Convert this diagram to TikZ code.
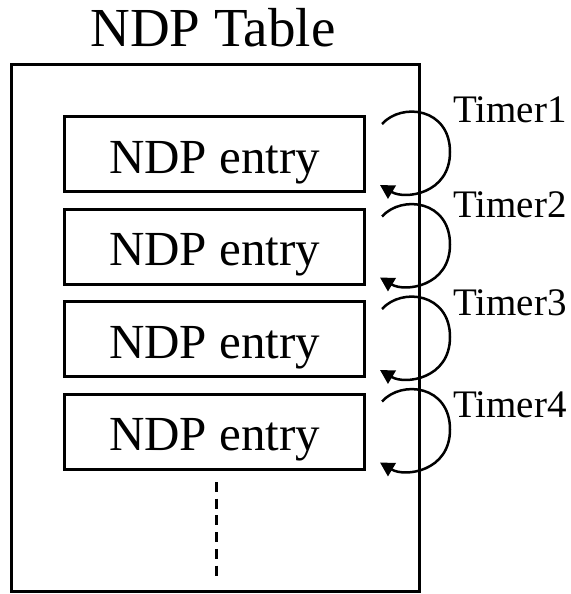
\documentclass[tikz,border=0pt]{standalone}
\usepackage{fontspec}
\setmainfont{Liberation Serif}
\usetikzlibrary{arrows.meta,calc}
\tikzset{
  entrybox/.style={draw, line width=3pt, minimum width=300pt, minimum height=75pt,
    inner sep=0pt, text height=38pt, text depth=0pt, font=\fontsize{49}{55}\selectfont},
  tablebox/.style={draw, line width=3pt, minimum width=408pt, minimum height=527pt, inner sep=0pt},
  timerlabel/.style={anchor=base west, inner sep=0pt, font=\fontsize{39}{44}\selectfont},
  titlelabel/.style={anchor=base, inner sep=0pt, font=\fontsize{55}{60}\selectfont},
  looparrow/.style={line width=2.5pt, -{Triangle[length=14pt,width=15pt]}},
  dotsline/.style={line width=3pt, dash pattern=on 10pt off 6.7pt}
}
\newcommand{\timerloop}[1]{%
  \draw[looparrow] ($(#1.east)+(16,-30)$) .. controls ($(#1.east)+(36,-52)$) and ($(#1.east)+(84,-46)$) .. ($(#1.east)+(84,-2)$) .. controls ($(#1.east)+(84,40)$) and ($(#1.east)+(39,46)$) .. ($(#1.east)+(14,31)$);}
\begin{document}
\begin{tikzpicture}[x=1pt,y=-1pt]
\useasboundingbox (0,0) rectangle (570,594);
\node[titlelabel] (title) at (213,47) {NDP Table};
\node[tablebox] (table) at (215.5,327.75) {};
\node[entrybox] (e1) at (214.5,154) {NDP entry};
\node[entrybox] (e2) at (214.5,246.5) {NDP entry};
\node[entrybox] (e3) at (214.5,339) {NDP entry};
\node[entrybox] (e4) at (214.5,431.5) {NDP entry};
\node[timerlabel] (t1) at (453,122) {Timer1};
\node[timerlabel] (t2) at (453,217) {Timer2};
\node[timerlabel] (t3) at (453,315) {Timer3};
\node[timerlabel] (t4) at (453,417) {Timer4};
\timerloop{e1}
\timerloop{e2}
\timerloop{e3}
\timerloop{e4}
\coordinate (d1) at (216.5,482);
\coordinate (d2) at (216.5,578);
\draw[dotsline] (d1) -- (d2);
\end{tikzpicture}
\end{document}
